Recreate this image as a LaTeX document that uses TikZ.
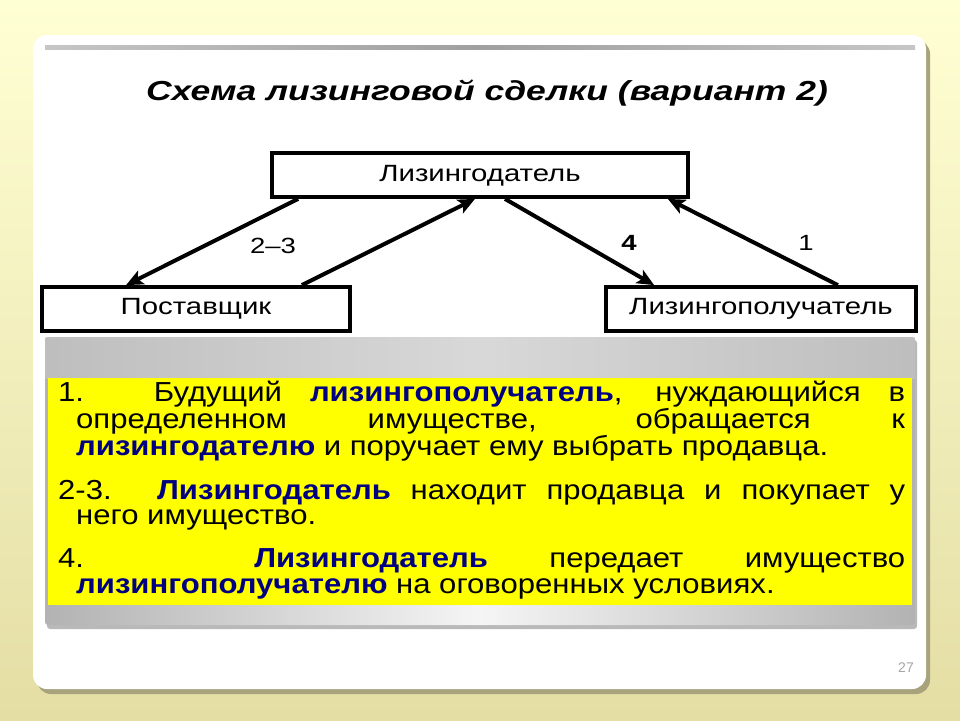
\documentclass[tikz,border=0pt]{standalone}
\usepackage{fontspec}
\setmainfont{Liberation Sans}
\newfontfamily\widefont[FakeStretch=1.13]{Liberation Sans}
\newfontfamily\schemefont[FakeStretch=1.25]{Liberation Sans}
\newfontfamily\titlefont[FakeStretch=1.29]{Liberation Sans}
\usetikzlibrary{arrows.meta}
\definecolor{slidetop}{HTML}{FFFFD4}
\definecolor{slidebottom}{HTML}{E4DEA4}
\definecolor{panelshadow}{HTML}{A8A37C}
\definecolor{notesyellow}{HTML}{FFFF00}
\definecolor{keyblue}{HTML}{000080}
\newcommand{\keyword}[1]{\textbf{\color{keyblue}#1}}
\newcommand{\notepar}[1]{\par\vspace{#1}\hangindent=18pt\hangafter=1\noindent\ignorespaces}

\begin{document}
\begin{tikzpicture}[x=1pt, y=-1pt,
        partybox/.style={draw, line width=3.8pt, fill=white, minimum height=44pt,
            font=\schemefont\fontsize{23.5}{23.5}\selectfont},
        deal/.style={line width=4pt, -{Stealth[length=17pt, width=15pt, inset=4pt]}},
        steplabel/.style={font=\schemefont\fontsize{22}{22}\selectfont}
    ]
    % slide background
    \useasboundingbox (0,0) rectangle (960,720);
    \shade[top color=slidetop, bottom color=slidebottom] (0,0) rectangle (960,720);
    \fill[panelshadow, rounded corners=14pt] (37,40) rectangle (930,694);
    \fill[white, rounded corners=14pt] (33,35) rectangle (926,689);
    \shade[left color=gray!45, right color=gray!45, middle color=gray!75] (45,45) rectangle (915,49);

    \node[font=\titlefont\bfseries\itshape\fontsize{27.5}{28}\selectfont] (title) at (487,93)
        {Схема лизинговой сделки (вариант 2)};

    % parties
    \node[partybox, minimum width=416pt, text depth=3pt] (lessor) at (480,175) {Лизингодатель};
    \node[partybox, minimum width=308pt] (supplier) at (196,309) {Поставщик};
    \node[partybox, minimum width=310pt] (lessee) at (761,309) {Лизингополучатель};

    \draw[deal] ([xshift=28pt]lessor.south west) -- ([xshift=86pt]supplier.north west);
    \draw[deal] ([xshift=-50pt]supplier.north east) -- ([xshift=-5pt]lessor.south);
    \draw[deal] ([xshift=25pt]lessor.south) -- ([xshift=50pt]lessee.north west);
    \draw[deal] ([xshift=-80pt]lessee.north east) -- ([xshift=-22pt]lessor.south east);

    \node[steplabel] (l23) at (273,246) {2–3};
    \node[steplabel, font=\schemefont\bfseries\fontsize{22}{22}\selectfont] (l4) at (629,243) {4};
    \node[steplabel] (l1) at (806,243) {1};

    % explanation panel
    \fill[gray!55, rounded corners=3pt] (47,340) rectangle (917,629);
    \shade[left color=gray!60, right color=gray!60, middle color=gray!8, rounded corners=3pt]
        (45,337) rectangle (915,625);
    \shade[top color=gray!45, bottom color=gray!45!white, opacity=0.6] (45,337) rectangle (915,378);
    \fill[notesyellow] (48,378) rectangle (912,605);
    \node[anchor=north west, inner sep=0pt, text width=847pt, align=justify,
        font=\widefont\fontsize{27.5}{25.8}\selectfont] (notes) at (58,381) {%
        \hangindent=18pt\hangafter=1\noindent
        1. Будущий \keyword{лизингополучатель}, нуждающийся в\linebreak
        определенном имуществе, обращается к\linebreak
        \keyword{лизингодателю} и поручает ему выбрать продавца.
        \notepar{18pt}
        2-3. \keyword{Лизингодатель} находит продавца и покупает у\linebreak
        него имущество.
        \notepar{17pt}
        4. \keyword{Лизингодатель} передает имущество\linebreak
        \keyword{лизингополучателю} на оговоренных условиях.\par};

    \node[text=gray!70, font=\fontsize{14}{14}\selectfont] (pageno) at (906,668) {27};
\end{tikzpicture}
\end{document}
